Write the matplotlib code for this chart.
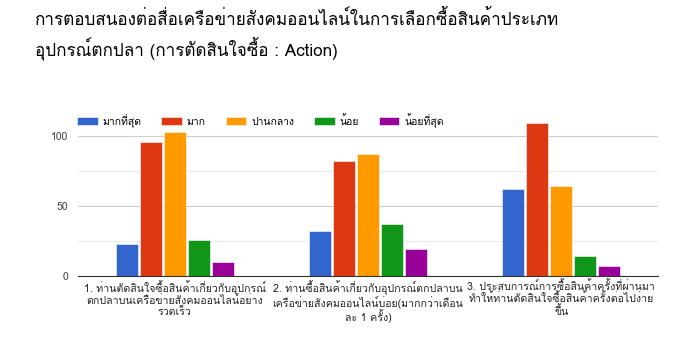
import numpy as np
import matplotlib.pyplot as plt
from matplotlib import font_manager, ft2font

# find a font that has Thai glyphs
thai_font = None
for f in font_manager.fontManager.ttflist:
    try:
        cmap = ft2font.FT2Font(f.fname).get_charmap()
    except Exception:
        continue
    if 0x0E01 in cmap and 0x0E49 in cmap:
        thai_font = f.name
        break
families = [thai_font, 'DejaVu Sans'] if thai_font else ['DejaVu Sans']
plt.rcParams['font.family'] = families

title = "การตอบสนองต่อสื่อเครือข่ายสังคมออนไลน์ในการเลือกซื้อสินค้าประเภท\nอุปกรณ์ตกปลา (การตัดสินใจซื้อ : Action)"
categories = [
    "1. ท่านตัดสินใจซื้อสินค้าเกี่ยวกับอุปกรณ์\nตกปลาบนเครือข่ายสังคมออนไลน์อย่าง\nรวดเร็ว",
    "2. ท่านซื้อสินค้าเกี่ยวกับอุปกรณ์ตกปลาบน\nเครือข่ายสังคมออนไลน์บ่อย(มากกว่าเดือน\nละ 1 ครั้ง)",
    "3. ประสบการณ์การซื้อสินค้าครั้งที่ผ่านมา\nทำให้ท่านตัดสินใจซื้อสินค้าครั้งต่อไปง่าย\nขึ้น",
]
series = ["มากที่สุด", "มาก", "ปานกลาง", "น้อย", "น้อยที่สุด"]
most = [23, 32, 62]
much = [96, 82, 109]
medium = [103, 87, 64]
little = [26, 37, 14]
least = [10, 19, 7]
values = [most, much, medium, little, least]
colors = ["#3366cc", "#dc3912", "#ff9900", "#109618", "#990099"]

fig = plt.figure(figsize=(7, 3.59), dpi=100)
ax = fig.add_axes([78 / 700, 1 - 276 / 359, 580 / 700, 156.8 / 359])

x = np.arange(len(categories))
w = 0.114
step = 0.1245
for i, (name, vals, c) in enumerate(zip(series, values, colors)):
    ax.bar(x + (i - 2) * step, vals, width=w, color=c, label=name,
           edgecolor='white', linewidth=0.4, zorder=3)

ax.set_xlim(-0.5, 2.5)
ax.set_ylim(0, 112)
ax.set_yticks([0, 50, 100])
ax.set_yticks([25, 75], minor=True)
ax.tick_params(axis='y', which='both', length=0, labelsize=7.5, labelcolor='#444444', pad=7)
ax.set_xticks(x)
ax.set_xticklabels(categories, fontsize=7.6, color='#222222', linespacing=1.05)
ax.tick_params(axis='x', length=0, pad=3)
ax.grid(axis='y', which='major', color='#cccccc', linewidth=0.8, zorder=0)
ax.grid(axis='y', which='minor', color='#ebebeb', linewidth=0.8, zorder=0)
for s in ['top', 'right', 'left']:
    ax.spines[s].set_visible(False)
ax.spines['bottom'].set_color('#333333')
ax.spines['bottom'].set_zorder(4)

fig.text(35 / 700, 1 - 10 / 359, title, fontsize=12.3, va='top', ha='left',
         color='#000000', linespacing=1.4)

fig.legend(loc='upper left', bbox_to_anchor=(77 / 700, 1 - 113 / 359), ncol=5,
           frameon=False, fontsize=7.5, handlelength=2.0, handleheight=0.8,
           columnspacing=1.9, handletextpad=0.45, borderaxespad=0, borderpad=0)

fig.savefig('out.png', dpi=100, facecolor='white')
